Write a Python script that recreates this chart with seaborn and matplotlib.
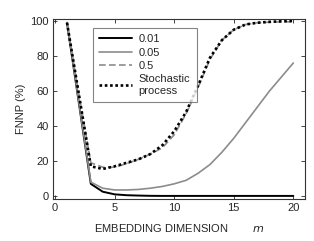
import numpy as np
import pandas as pd
import matplotlib
matplotlib.use("Agg")
import matplotlib.pyplot as plt
import seaborn as sns

m = list(range(1, 21))
s001 = [99, 53, 7, 2.5, 1.0, 0.5, 0.3, 0.15, 0.1, 0.1, 0.1, 0.1, 0.1, 0.1, 0.1, 0.1, 0.1, 0.1, 0.1, 0.1]
s005 = [99, 53.5, 8, 4.5, 3.5, 3.5, 3.8, 4.5, 5.5, 7, 9, 13, 18, 25, 33, 42, 51, 60, 68, 76]
s05 = [99, 58, 19, 16.5, 16.5, 18.5, 21, 24, 27.5, 35, 47, 62, 78, 89, 95, 98, 99, 99.3, 99.5, 99.5]
stoch = [99, 58, 17, 15.5, 17, 19, 21, 24, 29, 37, 48, 63, 79, 89, 95, 98, 99, 99.5, 99.8, 100]
labels = ["0.01", "0.05", "0.5", "Stochastic\nprocess"]

sns.set_style("ticks")
plt.rcParams['font.family'] = ['Liberation Sans', 'DejaVu Sans']
plt.rcParams['font.size'] = 8

fig, ax = plt.subplots(figsize=(3.14, 2.41), dpi=100)
fig.subplots_adjust(left=0.169, right=0.972, top=0.921, bottom=0.174)

df = pd.DataFrame({"m": m, "a": s001, "b": s005, "c": s05, "d": stoch})
sns.lineplot(data=df, x="m", y="a", ax=ax, color="black", lw=1.4, label=labels[0])
sns.lineplot(data=df, x="m", y="b", ax=ax, color="#8c8c8c", lw=1.2, label=labels[1])
sns.lineplot(data=df, x="m", y="c", ax=ax, color="#8c8c8c", lw=1.2, ls=(0, (4, 2)), label=labels[2])
sns.lineplot(data=df, x="m", y="d", ax=ax, color="black", lw=1.9, ls=(0, (1, 1)), label=labels[3])

ax.set_xlim(-0.17, 21.0)
ax.set_ylim(-1.7, 101.1)
ax.set_xticks([0, 5, 10, 15, 20])
ax.set_yticks([0, 20, 40, 60, 80, 100])
ax.set_xlabel("EMBEDDING DIMENSION        $m$", fontsize=8, labelpad=6)
ax.set_ylabel("FNNP (%)", fontsize=8, labelpad=3)
ax.tick_params(direction="in", length=3, width=0.6, labelsize=8, top=True, right=True, pad=3)
for s in ax.spines.values():
    s.set_linewidth(0.8)
    s.set_color("#333333")

leg = ax.legend(loc="upper left", bbox_to_anchor=(0.135, 0.98), frameon=True, fancybox=False,
                edgecolor="#666666", fontsize=8, handlelength=3.0, labelspacing=0.3,
                borderpad=0.55, handletextpad=0.6)
leg.get_frame().set_linewidth(0.8)

fig.savefig("out.png", dpi=100)
